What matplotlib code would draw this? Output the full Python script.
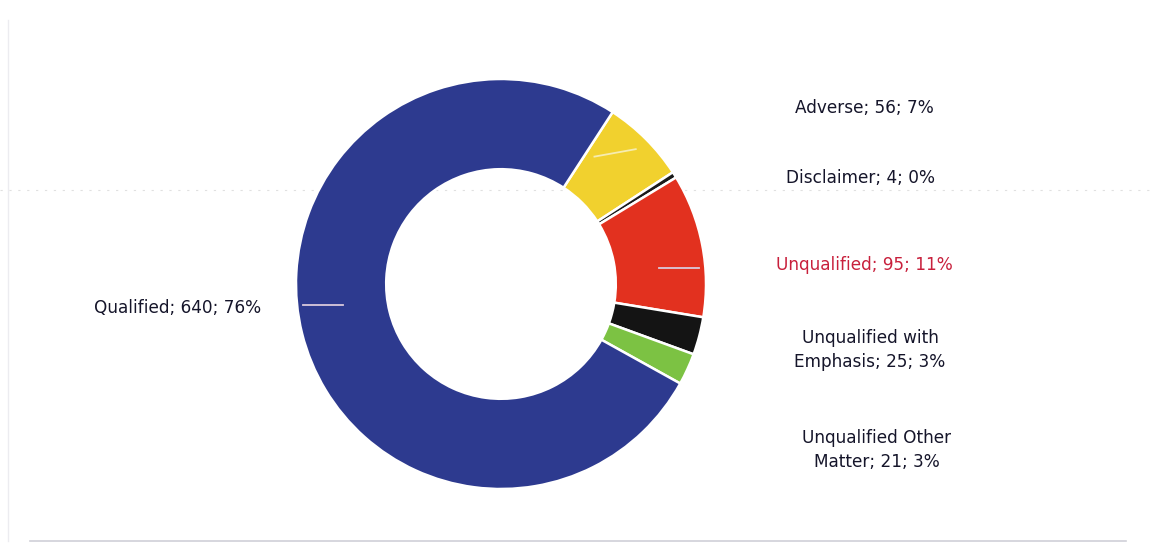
import matplotlib
matplotlib.use("Agg")
import matplotlib.pyplot as plt
import numpy as np

categories = ["Adverse", "Disclaimer", "Unqualified", "Unqualified with\nEmphasis",
              "Unqualified Other\nMatter", "Qualified"]
values = [56, 4, 95, 25, 21, 640]
percents = ["7%", "0%", "11%", "3%", "3%", "76%"]
colors = ["#f1d12e", "#1a1a1a", "#e2311f", "#141414", "#7cc243", "#2d3a8f"]
label_colors = ["#15152a", "#15152a", "#c8203c", "#15152a", "#15152a", "#15152a"]

W, H = 1156, 554
fig = plt.figure(figsize=(W / 100, H / 100), dpi=100)
ax = fig.add_axes([0, 0, 1, 1])

cx, cy, R = 501, H - 284, 205
wedges, _ = ax.pie(values, colors=colors, startangle=57, counterclock=False,
                   center=(cx, cy), radius=R,
                   wedgeprops=dict(width=R * 0.44, edgecolor="white", linewidth=1.8,
                                   zorder=2))
ax.set_xlim(0, W)
ax.set_ylim(0, H)
ax.set_aspect("equal")
ax.axis("off")

# frame lines (behind the ring)
ax.plot([0, W], [H - 190, H - 190], color="#e0e0e0", lw=0.8, ls=(0, (2, 6)), zorder=0)
ax.plot([30, W - 30], [H - 541, H - 541], color="#d0d0d8", lw=1.2, zorder=0)
ax.plot([8, 8], [H - 20, H - 541], color="#ececf0", lw=1.0, zorder=0)

font = ["DejaVu Sans"]
label_pos = [(864, 108), (861, 178), (864, 265), (870, 350), (877, 450), (178, 308)]
for cat, v, p, col, (x, y) in zip(categories, values, percents, label_colors, label_pos):
    ax.text(x, H - y, f"{cat}; {v}; {p}", ha="center", va="center", fontsize=12.2,
            color=col, family=font, linespacing=1.4)

# faint leader stubs inside wedges, pointing toward their labels
for i in (0, 2, 5):
    lx, ly = label_pos[i]
    ly = H - ly
    w = wedges[i]
    a = np.deg2rad((w.theta1 + w.theta2) / 2)
    if i == 0:
        px, py = cx + R * 0.93 * np.cos(a), cy + R * 0.93 * np.sin(a)
        d = np.array([lx - px, ly - py]); d /= np.hypot(*d)
        ax.plot([px, px - 42 * d[0]], [py, py - 42 * d[1]], color="#f6ecb0", lw=1.3, zorder=3)
    else:
        dy = ly + 3 if i == 5 else ly - 3
        off = np.sqrt(R ** 2 - (dy - cy) ** 2)
        sgn = -1 if i == 5 else 1
        x0 = cx + sgn * (off - 6)
        ax.plot([x0, x0 - sgn * 40], [dy, dy], color="#d9c9dc", lw=1.3, zorder=3)

fig.savefig("out.png", dpi=100, facecolor="white")
